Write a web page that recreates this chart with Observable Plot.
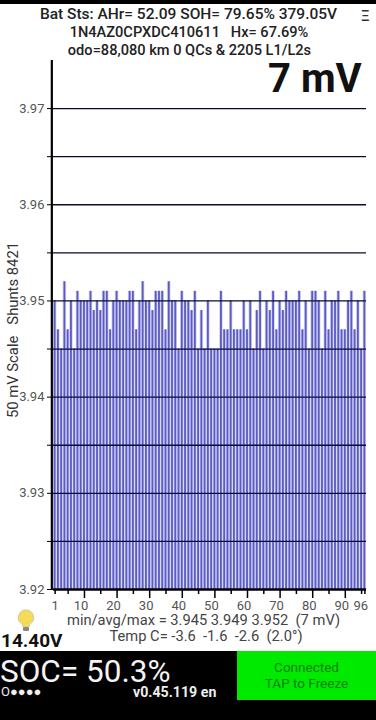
<!DOCTYPE html>
<html><head><meta charset="utf-8">
<script src="https://cdn.jsdelivr.net/npm/d3@7"></script>
<script src="https://cdn.jsdelivr.net/npm/@observablehq/plot@0.6"></script>
<style>
html,body{margin:0;padding:0;background:#fff;width:376px;height:720px;overflow:hidden;font-family:Roboto,sans-serif}
#page{position:relative;width:376px;height:720px;overflow:hidden}
#chart{position:absolute;left:0;top:0}
.t{position:absolute;white-space:pre;line-height:1}
.c{text-align:center}
</style></head><body><div id="page">
<div style="position:absolute;left:0;top:0;width:376px;height:4px;background:#000"></div>
<div id="chart"></div>
<div class="t c" style="left:0;width:377px;top:7px;font-size:15.5px;font-weight:500;color:#222">Bat Sts: AHr= 52.09 SOH= 79.65% 379.05V</div>
<div class="t c" style="left:0;width:378px;top:25px;font-size:14.6px;font-weight:500;color:#222">1N4AZ0CPXDC410611   Hx= 67.69%</div>
<div class="t c" style="left:0;width:379px;top:43px;font-size:14.6px;font-weight:500;color:#222">odo=88,080 km 0 QCs &amp; 2205 L1/L2s</div>
<div class="t" style="left:361px;top:9px;font-size:15px;font-weight:500;color:#333">Ξ</div>
<div class="t" style="left:268px;top:59px;font-size:40px;font-weight:700;color:#111">7 mV</div>
<div class="t" style="left:13px;top:330px;font-size:14.8px;color:#333;transform:translate(-50%,-50%) rotate(-90deg)">50 mV Scale   Shunts 8421</div>
<div class="t c" style="left:0;width:407px;top:613px;font-size:14.7px;color:#444">min/avg/max = 3.945 3.949 3.952  (7 mV)</div>
<div class="t c" style="left:0;width:412px;top:629px;font-size:14.7px;color:#444">Temp C= -3.6  -1.6  -2.6  (2.0°)</div>
<svg style="position:absolute;left:17px;top:609px" width="18" height="24" viewBox="0 0 18 24">
<path d="M9 1a7.6 7.6 0 0 0-4.4 13.8c1 .9 1.2 1.8 1.3 3h6.2c.1-1.2.3-2.1 1.3-3A7.6 7.6 0 0 0 9 1z" fill="#f4dc5a" stroke="#d8c890" stroke-width="1"/>
<rect x="6" y="18" width="6" height="4" rx="1" fill="#8a8a80"/>
</svg>
<div class="t" style="left:1px;top:631px;font-size:19px;font-weight:700;color:#111">14.40V</div>
<div style="position:absolute;left:0;top:651px;width:376px;height:69px;background:#000"></div>
<div style="position:absolute;left:237px;top:651px;width:139px;height:49px;background:#00ea00"></div>
<div class="t c" style="left:237px;width:139px;top:661px;font-size:13.5px;color:#0a7d0a">Connected</div>
<div class="t c" style="left:237px;width:139px;top:677px;font-size:13.5px;color:#0a7d0a">TAP to Freeze</div>
<div class="t" style="left:0;top:659px;font-size:31.5px;line-height:25px;color:#f4f4f4">SOC= 50.3%</div>
<div class="t" style="left:1px;top:685px;font-size:13px;color:#eee">O●●●●</div>
<div class="t" style="left:133px;top:685px;font-size:14.2px;font-weight:700;color:#eee">v0.45.119 en</div>
</div>
<script>
const cellIndex = d3.range(1, 97);
const cellVolts = [
3.950,3.947,3.945,3.952,3.947,3.950,3.945,3.951,3.950,3.950,3.950,3.951,
3.949,3.950,3.949,3.951,3.951,3.947,3.950,3.951,3.950,3.950,3.950,3.951,
3.951,3.947,3.950,3.952,3.950,3.950,3.949,3.951,3.951,3.951,3.947,3.952,
3.950,3.950,3.945,3.951,3.950,3.950,3.949,3.951,3.945,3.949,3.945,3.950,
3.945,3.945,3.945,3.951,3.947,3.947,3.950,3.947,3.947,3.947,3.950,3.947,
3.950,3.945,3.949,3.951,3.945,3.950,3.949,3.951,3.947,3.950,3.949,3.951,
3.950,3.950,3.950,3.951,3.947,3.950,3.945,3.951,3.951,3.950,3.945,3.951,
3.947,3.950,3.950,3.951,3.947,3.947,3.950,3.951,3.947,3.950,3.945,3.951];
const yBase = 3.92;
const yLabelled = [3.92,3.93,3.94,3.95,3.96,3.97];
const yGrid = [3.925,3.93,3.935,3.94,3.945,3.95,3.955,3.96,3.965,3.97];
const yMinor = [3.925,3.935,3.945,3.955,3.965];
const xFirstLabel = [1];
const xLabelled = [10,20,30,40,50,60,70,80,90];
const xLastLabel = [96];
const xMajor = [10,20,30,40,50,60,70,80,90];
const xMinor = [1,5,15,25,35,45,55,65,75,85,95,96];
const cells = cellIndex.map((c,k)=>({c, v:cellVolts[k]}));

const chart = Plot.plot({
  width:376, height:652,
  marginLeft:53, marginRight:10, marginTop:60, marginBottom:63,
  style:{fontFamily:"Roboto, sans-serif", fontSize:"13px", color:"#444", background:"transparent", overflow:"visible"},
  x:{type:"band", domain:cellIndex, paddingInner:0.44, paddingOuter:0.22, round:false, label:null},
  y:{domain:[yBase,3.975], label:null},
  marks:[
    Plot.rectY(cells,{x:"c", y1:yBase, y2:"v", fill:"#d0d0fa", insetLeft:-0.8, insetRight:-0.8}),
    Plot.rectY(cells,{x:"c", y1:yBase, y2:"v", fill:"#5c5cc0"}),
    Plot.ruleY(yGrid,{stroke:"#0a0a30", strokeWidth:1.3}),
    Plot.ruleY([yBase],{stroke:"#000", strokeWidth:2.4}),
    Plot.axisY({ticks:yLabelled, tickFormat:d=>d.toFixed(2), tickSize:6, tickPadding:3, stroke:"#000", fontSize:13, fill:"#555", label:null, anchor:"left"}),
    Plot.axisY({ticks:yMinor, text:null, tickSize:6, stroke:"#000", label:null, anchor:"left"}),
    Plot.ruleX([cellIndex[0]],{dx:-3.3, stroke:"#000", strokeWidth:2.2}),
    Plot.axisX({ticks:xMajor, text:null, tickSize:9, stroke:"#000", strokeWidth:1.5, label:null, anchor:"bottom"}),
    Plot.axisX({ticks:xMinor, text:null, tickSize:5, stroke:"#000", strokeWidth:1.5, label:null, anchor:"bottom"}),
    Plot.axisX({ticks:xFirstLabel, tickSize:0, tickPadding:11, fontSize:13, fill:"#555", label:null, anchor:"bottom"}),
    Plot.axisX({ticks:xLabelled, tickSize:0, tickPadding:11, dx:-3.5, fontSize:13, fill:"#555", label:null, anchor:"bottom"}),
    Plot.axisX({ticks:xLastLabel, tickSize:0, tickPadding:11, dx:-4, fontSize:13, fill:"#555", label:null, anchor:"bottom"})
  ]
});
document.getElementById("chart").appendChild(chart);
</script></body></html>
